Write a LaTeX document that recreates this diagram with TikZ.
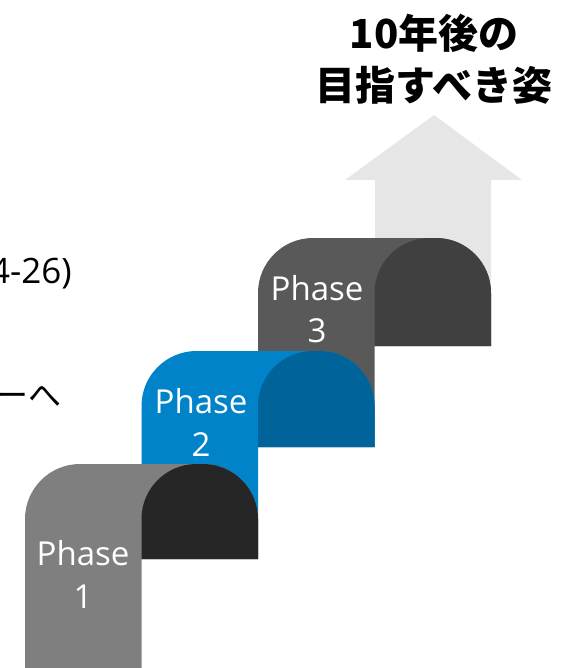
\documentclass[tikz,border=0pt]{standalone}
\usepackage{fontspec}
\setmainfont{Open Sans}
\newfontfamily\jp{Noto Sans CJK JP}
\definecolor{pA}{HTML}{7F7F7F}
\definecolor{pAd}{HTML}{262626}
\definecolor{pB}{HTML}{0083C9}
\definecolor{pBd}{HTML}{00649B}
\definecolor{pC}{HTML}{595959}
\definecolor{pCd}{HTML}{404040}
\definecolor{arrowgrey}{HTML}{E6E6E6}
\tikzset{
  phasetxt/.style={text=white, inner sep=0pt, font=\fontsize{33}{40}\selectfont},
  titletxt/.style={text=black, inner sep=0pt, font=\jp\bfseries\fontsize{40}{48}\selectfont},
  sidetxt/.style={text=black, inner sep=0pt, anchor=east, font=\fontsize{35}{42}\selectfont},
}
\newcommand{\stepshape}[7]{%
  % #1 x0, #2 y0, #3 arch bottom, #4 column bottom, #5 fill, #6 arch fill, #7 w
  \fill[#5] (#1,#4) -- (#1,#2+55) arc[start angle=180,end angle=270,radius=55]
     -- (#1+2*#7-55,#2) arc[start angle=270,end angle=360,radius=55]
     -- (#1+2*#7,#3) -- (#1+#7,#3) -- (#1+#7,#4) -- cycle;
  \fill[#6] (#1+#7,#3) -- (#1+#7,#2+55) arc[start angle=180,end angle=270,radius=55]
     -- (#1+2*#7-55,#2) arc[start angle=270,end angle=360,radius=55]
     -- (#1+2*#7,#3) -- cycle;
}
\begin{document}
\begin{tikzpicture}[x=1pt,y=-1pt]
\useasboundingbox (0,0) rectangle (562,668);
% up arrow
\fill[arrowgrey] (434,115) -- (522,180) -- (491,180) -- (491,346) -- (375,346) -- (375,180) -- (345,180) -- cycle;
% phase 3
\stepshape{258}{238}{346}{447}{pC}{pCd}{116.5}
% phase 2
\stepshape{141.5}{351}{447}{559}{pB}{pBd}{116.5}
% phase 1
\stepshape{25}{464}{559}{680}{pA}{pAd}{116.5}
% texts
\node[phasetxt] (p3a) at (317,288) {Phase};
\node[phasetxt] (p3b) at (317,331) {3};
\node[phasetxt] (p2a) at (201,401) {Phase};
\node[phasetxt] (p2b) at (201,445) {2};
\node[phasetxt] (p1a) at (83,553) {Phase};
\node[phasetxt] (p1b) at (83,597) {1};
\node[titletxt] (t1) at (434,33) {10年後の};
\node[titletxt] (t2) at (434,85) {目指すべき姿};
\node[sidetxt] (s1) at (72,274) {4-26)};
\node[sidetxt,font=\jp\fontsize{33}{40}\selectfont] (s2) at (62,397) {ーへ};
\end{tikzpicture}
\end{document}
